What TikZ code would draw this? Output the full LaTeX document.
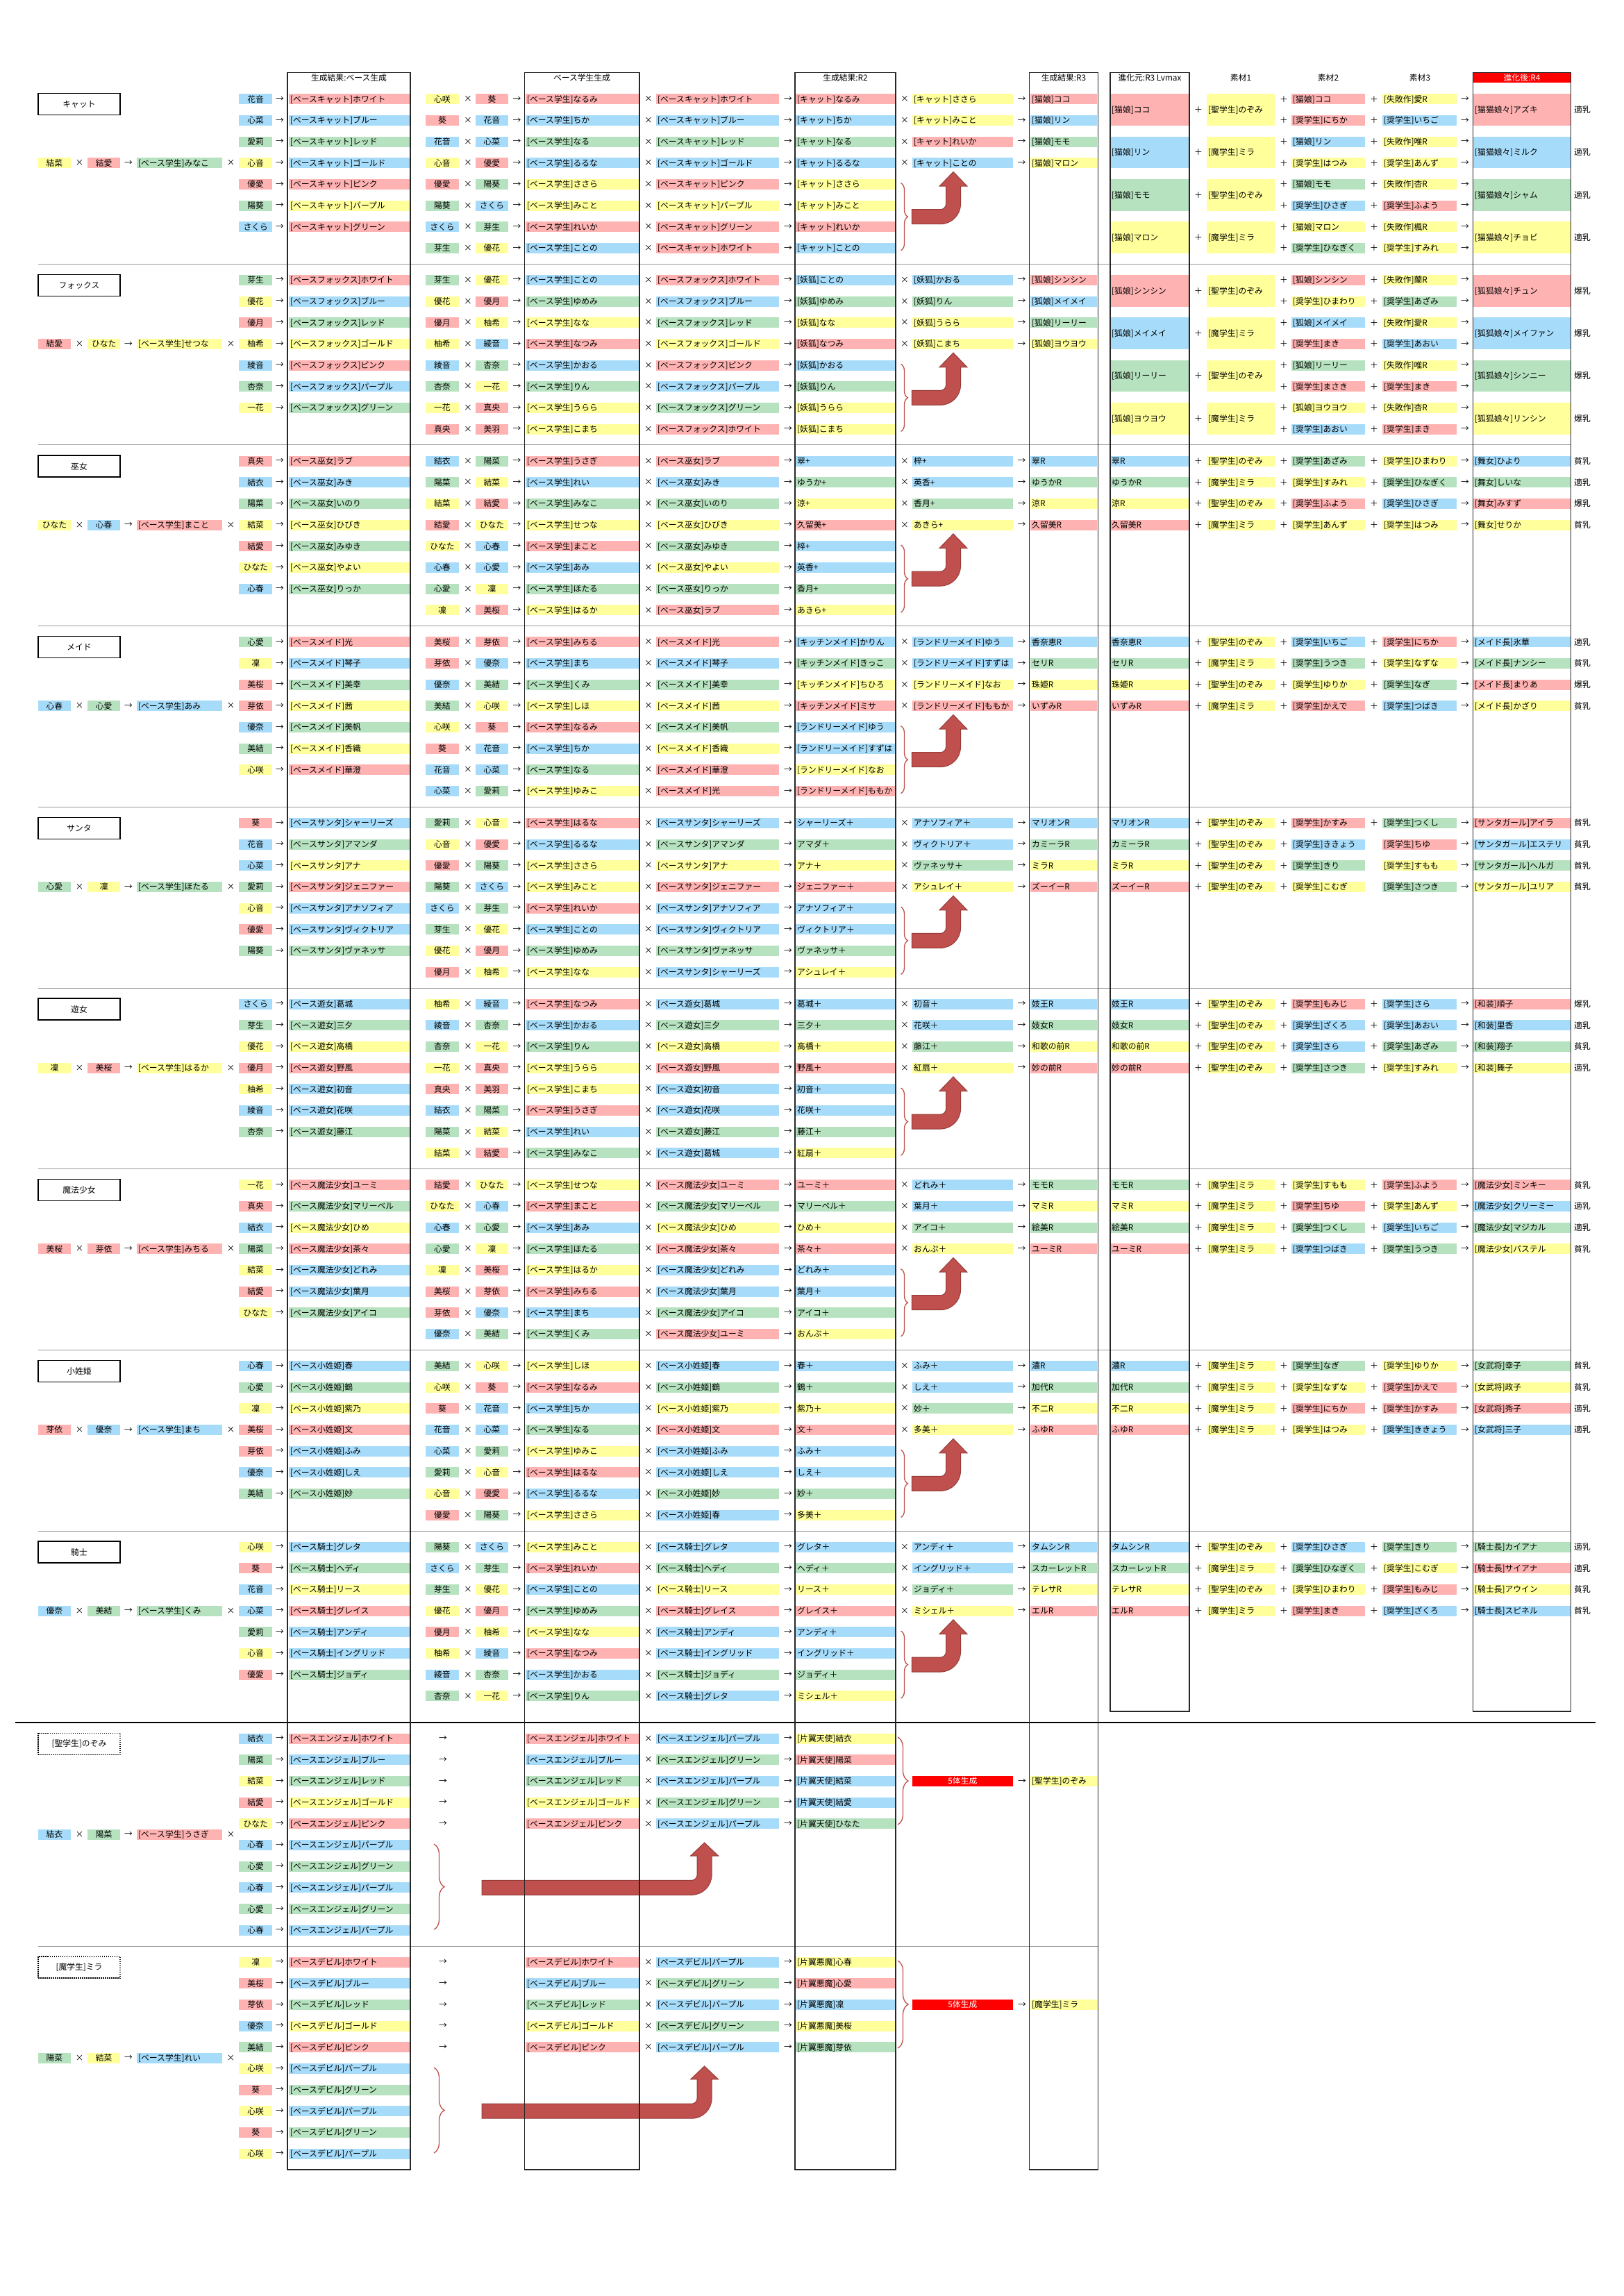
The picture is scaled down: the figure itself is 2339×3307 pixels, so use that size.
\documentclass[tikz,border=0pt]{standalone}
\usepackage{fontspec}
\setmainfont{Noto Sans CJK JP}
\usetikzlibrary{decorations.pathreplacing}
\definecolor{cR}{RGB}{255,178,178}
\definecolor{cB}{RGB}{166,220,250}
\definecolor{cG}{RGB}{182,226,191}
\definecolor{cY}{RGB}{255,255,155}
\definecolor{arrowred}{RGB}{192,80,77}
\definecolor{arrowdark}{RGB}{150,60,57}
\newcounter{nid}
\newcommand\tagfont{\fontsize{11.8pt}{13pt}\selectfont}
\newcommand\TG[6]{\stepcounter{nid}\node[#1,fill=c#4,text width=#5] (n\arabic{nid}) at (#2,#3) {\mbox{#6}};}
\newcommand\TL[5]{\TG{tagL}{#1}{#2}{#3}{#4}{#5}}
\newcommand\TC[5]{\TG{tagC}{#1}{#2}{#3}{#4}{#5}}
\newcommand\SY[3]{\stepcounter{nid}\node[symb] (n\arabic{nid}) at (#1,#2) {#3};}
\newcommand\HD[3]{\stepcounter{nid}\node[hdr] (n\arabic{nid}) at (#1,#2) {#3};}
\newcommand\SZ[2]{\stepcounter{nid}\node[symb,anchor=west] (n\arabic{nid}) at (2267,#1) {#2};}
\newcommand\SetY[1]{\pgfmathsetmacro\myY{\myB+(#1-1)*30.69}}
\newcommand\ColOne[5]{\SetY{#1}\TC{344}{\myY}{#2}{44pt}{#3}\SY{403}{\myY}{→}\TL{416}{\myY}{#4}{170pt}{#5}}
\newcommand\PairRow[7]{\SetY{#1}\TC{613}{\myY}{#2}{43.5pt}{#3}\SY{674}{\myY}{×}\TC{685}{\myY}{#4}{42.5pt}{#5}\SY{744.6}{\myY}{→}\TL{757}{\myY}{#6}{159pt}{#7}}
\newcommand\MidRow[5]{\SetY{#1}\SY{934}{\myY}{×}\TL{945}{\myY}{#2}{172.5pt}{#3}\SY{1135}{\myY}{→}\TL{1146}{\myY}{#4}{140pt}{#5}}
\newcommand\OptRow[5]{\SetY{#1}\SY{1303}{\myY}{×}\TL{1314}{\myY}{#2}{141pt}{#3}\SY{1471.6}{\myY}{→}\TL{1484}{\myY}{#4}{92pt}{#5}}
\newcommand\EvoA[6]{\SetY{#1}\TL{1599}{\myY}{#2}{109pt}{#3}\SY{1726}{\myY}{＋}\TL{1738}{\myY}{Y}{94pt}{#4}\SY{1849}{\myY}{＋}\TL{1860}{\myY}{#5}{102pt}{#6}}
\newcommand\EvoBn[6]{\SetY{#1}\TL{1991}{\myY}{#2}{103pt}{#3}\SY{2110}{\myY}{→}\TL{2122}{\myY}{#4}{136pt}{#5}\SZ{\myY}{#6}}
\newcommand\EvoB[6]{\SetY{#1}\SY{1979}{\myY}{＋}\EvoBn{#1}{#2}{#3}{#4}{#5}{#6}}
\newcommand\EvoD[7]{\pgfmathsetmacro\myM{\myB+(#1-1)*30.69+15.345}\TG{tagBig}{1599}{\myM}{#2}{109pt}{#3}\SY{1726}{\myM}{＋}\TG{tagBig}{1738}{\myM}{Y}{94pt}{#4}\TG{tagBig}{2122}{\myM}{#5}{136pt}{#6}\SZ{\myM}{#7}}
\newcommand\MatRow[5]{\SetY{#1}\SY{1849}{\myY}{＋}\TL{1860}{\myY}{#2}{102pt}{#3}\SY{1979}{\myY}{＋}\TL{1991}{\myY}{#4}{103pt}{#5}\SY{2110}{\myY}{→}}
\newcommand\StuRow[3]{\SetY{#1}\SY{638}{\myY}{→}\TL{757}{\myY}{#2}{159pt}{#3}}
\newcommand\BigArrow[5]{\fill[redarrow] (#1,{#2-10.5}) -- ({#3-18.5},{#2-10.5}) .. controls ({#3-14.1},{#2-10.5}) and ({#3-10.5},{#2-14.1}) .. ({#3-10.5},{#2-18.5}) -- ({#3-10.5},#5) -- ({#3-20},#5) -- (#3,#4) -- ({#3+20},#5) -- ({#3+10.5},#5) -- ({#3+10.5},{#2-18.5}) .. controls ({#3+10.5},{#2-2.5}) and ({#3-2.5},{#2+10.5}) .. ({#3-18.5},{#2+10.5}) -- (#1,{#2+10.5}) -- cycle;}
\newcommand\Parents[6]{\TC{55}{\myY}{#1}{42.5pt}{#2}\SY{114.6}{\myY}{×}\TC{126}{\myY}{#3}{43pt}{#4}\SY{185}{\myY}{→}\TL{197}{\myY}{#5}{119pt}{#6}\SY{332.6}{\myY}{×}}
\newcommand\SecHead[8]{%
\pgfmathsetmacro\myB{142.7+#1*260.67}%
\pgfmathsetmacro\myT{\myB+7.5}%
\stepcounter{nid}\node[titlebox] (n\arabic{nid}) at (114,\myT) {#2};%
\SetY{4}\Parents{#3}{#4}{#5}{#6}{#7}{#8}%
\pgfmathsetmacro\myP{\myB+121}\pgfmathsetmacro\myQ{\myB+218}%
\draw[redbrace=10pt] (1297.5,\myP) -- (1297.5,\myQ);%
\pgfmathsetmacro\myC{\myB+169.5}\pgfmathsetmacro\myH{\myB+125.5}\pgfmathsetmacro\myK{\myB+104.8}%
\BigArrow{1313.4}{\myC}{1373}{\myK}{\myH}}
\newcommand\StuHead[8]{%
\def\myB{#1}%
\pgfmathsetmacro\myT{#1+7.5}%
\stepcounter{nid}\node[stubox] (n\arabic{nid}) at (114,\myT) {#2};%
\pgfmathsetmacro\myY{#1+138.1}\Parents{#3}{#4}{#5}{#6}{#7}{#8}%
\pgfmathsetmacro\myP{#1+152}\pgfmathsetmacro\myQ{#1+275}%
\draw[redbrace=15pt] (625,\myP) -- (625,\myQ);%
\pgfmathsetmacro\myC{#1+214.7}\pgfmathsetmacro\myH{#1+168.9}\pgfmathsetmacro\myK{#1+149.9}%
\BigArrow{694}{\myC}{1014.6}{\myK}{\myH}%
\pgfmathsetmacro\myP{#1-2}\pgfmathsetmacro\myQ{#1+124}%
\draw[redbrace=15pt] (1293,\myP) -- (1293,\myQ);%
\SetY{3}%
\stepcounter{nid}\node[genbox] (n\arabic{nid}) at (1313.4,\myY) {5体生成};%
\SY{1472}{\myY}{→}}
\tikzset{
 tagbase/.style={anchor=west, inner xsep=2pt, inner ysep=0pt, minimum height=15pt, text height=10.2pt, text depth=1.5pt, font=\tagfont},
 tagL/.style={tagbase, align=left},
 tagC/.style={tagbase, align=center},
 tagBig/.style={tagbase, align=left, minimum height=45.7pt},
 symb/.style={inner sep=0pt, font=\tagfont},
 hdr/.style={inner sep=0pt, font=\tagfont},
 titlebox/.style={draw=black, line width=1.4pt, minimum width=118pt, minimum height=31pt, inner sep=0pt, font=\tagfont, fill=white},
 stubox/.style={draw=black, line width=1.2pt, dash pattern=on 1.5pt off 1.5pt, minimum width=118pt, minimum height=31pt, inner sep=0pt, font=\tagfont, fill=white},
 genbox/.style={anchor=west, fill=red, text=white, minimum width=145.6pt, minimum height=15pt, inner sep=0pt, text height=10.2pt, text depth=1.5pt, font=\tagfont},
 frame/.style={draw=black!85, line width=1.5pt},
 sepline/.style={draw=black!40, line width=1pt},
 redarrow/.style={fill=arrowred, draw=arrowdark, line width=1pt},
 redbrace/.style={draw=arrowred, line width=1.3pt, decorate, decoration={brace, amplitude=#1}}
}
\begin{document}
\begin{tikzpicture}[x=1pt,y=-1pt]
\useasboundingbox (0,0) rectangle (2339,3307);
\fill[white] (0,0) rectangle (2339,3307);
\foreach \k in {0,...,7} \draw[sepline] (55,{380.3+\k*260.67}) -- (2262,{380.3+\k*260.67});
\draw[sepline] (55,2803.7) -- (1582,2803.7);
\draw[line width=2pt] (22,2481) -- (2298,2481);
\fill[red] (2121.5,104.5) rectangle (2262.5,119.4);
\HD{502.5}{112}{生成結果:ベース生成}
\HD{838}{112}{ベース学生生成}
\HD{1217.5}{112}{生成結果:R2}
\HD{1532}{112}{生成結果:R3}
\HD{1656}{112}{進化元:R3 Lvmax}
\HD{1787}{112}{素材1}
\HD{1913}{112}{素材2}
\HD{2045}{112}{素材3}
\stepcounter{nid}\node[hdr,text=white] (n\arabic{nid}) at (2192,112) {進化後:R4};
% ===== 0 キャット
\SecHead{0}{キャット}{Y}{結菜}{R}{結愛}{G}{[ベース学生]みなこ}
\ColOne{1}{B}{花音}{R}{[ベースキャット]ホワイト}
\ColOne{2}{B}{心菜}{B}{[ベースキャット]ブルー}
\ColOne{3}{G}{愛莉}{G}{[ベースキャット]レッド}
\ColOne{4}{Y}{心音}{B}{[ベースキャット]ゴールド}
\ColOne{5}{R}{優愛}{R}{[ベースキャット]ピンク}
\ColOne{6}{G}{陽葵}{Y}{[ベースキャット]パープル}
\ColOne{7}{B}{さくら}{R}{[ベースキャット]グリーン}
\PairRow{1}{Y}{心咲}{R}{葵}{R}{[ベース学生]なるみ}
\PairRow{2}{R}{葵}{B}{花音}{B}{[ベース学生]ちか}
\PairRow{3}{B}{花音}{B}{心菜}{G}{[ベース学生]なる}
\PairRow{4}{Y}{心音}{R}{優愛}{B}{[ベース学生]るるな}
\PairRow{5}{R}{優愛}{G}{陽葵}{Y}{[ベース学生]ささら}
\PairRow{6}{G}{陽葵}{B}{さくら}{Y}{[ベース学生]みこと}
\PairRow{7}{B}{さくら}{G}{芽生}{R}{[ベース学生]れいか}
\PairRow{8}{G}{芽生}{Y}{優花}{B}{[ベース学生]ことの}
\MidRow{1}{R}{[ベースキャット]ホワイト}{R}{[キャット]なるみ}
\MidRow{2}{B}{[ベースキャット]ブルー}{B}{[キャット]ちか}
\MidRow{3}{G}{[ベースキャット]レッド}{G}{[キャット]なる}
\MidRow{4}{B}{[ベースキャット]ゴールド}{B}{[キャット]るるな}
\MidRow{5}{R}{[ベースキャット]ピンク}{Y}{[キャット]ささら}
\MidRow{6}{Y}{[ベースキャット]パープル}{Y}{[キャット]みこと}
\MidRow{7}{R}{[ベースキャット]グリーン}{R}{[キャット]れいか}
\MidRow{8}{R}{[ベースキャット]ホワイト}{B}{[キャット]ことの}
\OptRow{1}{Y}{[キャット]ささら}{R}{[猫娘]ココ}
\OptRow{2}{Y}{[キャット]みこと}{B}{[猫娘]リン}
\OptRow{3}{R}{[キャット]れいか}{G}{[猫娘]モモ}
\OptRow{4}{B}{[キャット]ことの}{Y}{[猫娘]マロン}
\EvoD{1}{R}{[猫娘]ココ}{[聖学生]のぞみ}{R}{[猫猫娘々]アズキ}{適乳}
\MatRow{1}{R}{[猫娘]ココ}{Y}{[失敗作]愛R}
\MatRow{2}{R}{[奨学生]にちか}{B}{[奨学生]いちご}
\EvoD{3}{B}{[猫娘]リン}{[魔学生]ミラ}{B}{[猫猫娘々]ミルク}{適乳}
\MatRow{3}{B}{[猫娘]リン}{Y}{[失敗作]唯R}
\MatRow{4}{Y}{[奨学生]はつみ}{Y}{[奨学生]あんず}
\EvoD{5}{G}{[猫娘]モモ}{[聖学生]のぞみ}{G}{[猫猫娘々]シャム}{適乳}
\MatRow{5}{G}{[猫娘]モモ}{Y}{[失敗作]杏R}
\MatRow{6}{B}{[奨学生]ひさぎ}{R}{[奨学生]ふよう}
\EvoD{7}{Y}{[猫娘]マロン}{[魔学生]ミラ}{Y}{[猫猫娘々]チョビ}{適乳}
\MatRow{7}{Y}{[猫娘]マロン}{Y}{[失敗作]楓R}
\MatRow{8}{G}{[奨学生]ひなぎく}{Y}{[奨学生]すみれ}
% ===== 1 フォックス
\SecHead{1}{フォックス}{R}{結愛}{Y}{ひなた}{Y}{[ベース学生]せつな}
\ColOne{1}{G}{芽生}{R}{[ベースフォックス]ホワイト}
\ColOne{2}{Y}{優花}{B}{[ベースフォックス]ブルー}
\ColOne{3}{R}{優月}{G}{[ベースフォックス]レッド}
\ColOne{4}{Y}{柚希}{Y}{[ベースフォックス]ゴールド}
\ColOne{5}{B}{綾音}{R}{[ベースフォックス]ピンク}
\ColOne{6}{G}{杏奈}{B}{[ベースフォックス]パープル}
\ColOne{7}{Y}{一花}{G}{[ベースフォックス]グリーン}
\PairRow{1}{G}{芽生}{Y}{優花}{B}{[ベース学生]ことの}
\PairRow{2}{Y}{優花}{R}{優月}{G}{[ベース学生]ゆめみ}
\PairRow{3}{R}{優月}{Y}{柚希}{Y}{[ベース学生]なな}
\PairRow{4}{Y}{柚希}{B}{綾音}{R}{[ベース学生]なつみ}
\PairRow{5}{B}{綾音}{G}{杏奈}{B}{[ベース学生]かおる}
\PairRow{6}{G}{杏奈}{Y}{一花}{G}{[ベース学生]りん}
\PairRow{7}{Y}{一花}{R}{真央}{Y}{[ベース学生]うらら}
\PairRow{8}{R}{真央}{R}{美羽}{Y}{[ベース学生]こまち}
\MidRow{1}{R}{[ベースフォックス]ホワイト}{B}{[妖狐]ことの}
\MidRow{2}{B}{[ベースフォックス]ブルー}{G}{[妖狐]ゆめみ}
\MidRow{3}{G}{[ベースフォックス]レッド}{Y}{[妖狐]なな}
\MidRow{4}{Y}{[ベースフォックス]ゴールド}{R}{[妖狐]なつみ}
\MidRow{5}{R}{[ベースフォックス]ピンク}{B}{[妖狐]かおる}
\MidRow{6}{B}{[ベースフォックス]パープル}{G}{[妖狐]りん}
\MidRow{7}{G}{[ベースフォックス]グリーン}{Y}{[妖狐]うらら}
\MidRow{8}{R}{[ベースフォックス]ホワイト}{Y}{[妖狐]こまち}
\OptRow{1}{B}{[妖狐]かおる}{R}{[狐娘]シンシン}
\OptRow{2}{G}{[妖狐]りん}{B}{[狐娘]メイメイ}
\OptRow{3}{Y}{[妖狐]うらら}{G}{[狐娘]リーリー}
\OptRow{4}{Y}{[妖狐]こまち}{Y}{[狐娘]ヨウヨウ}
\EvoD{1}{R}{[狐娘]シンシン}{[聖学生]のぞみ}{R}{[狐狐娘々]チュン}{爆乳}
\MatRow{1}{R}{[狐娘]シンシン}{Y}{[失敗作]蘭R}
\MatRow{2}{Y}{[奨学生]ひまわり}{G}{[奨学生]あざみ}
\EvoD{3}{B}{[狐娘]メイメイ}{[魔学生]ミラ}{B}{[狐狐娘々]メイファン}{爆乳}
\MatRow{3}{B}{[狐娘]メイメイ}{Y}{[失敗作]愛R}
\MatRow{4}{R}{[奨学生]まき}{B}{[奨学生]あおい}
\EvoD{5}{G}{[狐娘]リーリー}{[聖学生]のぞみ}{G}{[狐狐娘々]シンニー}{爆乳}
\MatRow{5}{G}{[狐娘]リーリー}{Y}{[失敗作]唯R}
\MatRow{6}{R}{[奨学生]まさき}{R}{[奨学生]まき}
\EvoD{7}{Y}{[狐娘]ヨウヨウ}{[魔学生]ミラ}{Y}{[狐狐娘々]リンシン}{爆乳}
\MatRow{7}{Y}{[狐娘]ヨウヨウ}{Y}{[失敗作]杏R}
\MatRow{8}{B}{[奨学生]あおい}{R}{[奨学生]まき}
% ===== 2 巫女
\SecHead{2}{巫女}{Y}{ひなた}{B}{心春}{R}{[ベース学生]まこと}
\ColOne{1}{R}{真央}{R}{[ベース巫女]ラブ}
\ColOne{2}{B}{結衣}{B}{[ベース巫女]みき}
\ColOne{3}{G}{陽菜}{G}{[ベース巫女]いのり}
\ColOne{4}{Y}{結菜}{Y}{[ベース巫女]ひびき}
\ColOne{5}{R}{結愛}{G}{[ベース巫女]みゆき}
\ColOne{6}{Y}{ひなた}{Y}{[ベース巫女]やよい}
\ColOne{7}{B}{心春}{G}{[ベース巫女]りっか}
\PairRow{1}{B}{結衣}{G}{陽菜}{R}{[ベース学生]うさぎ}
\PairRow{2}{G}{陽菜}{Y}{結菜}{B}{[ベース学生]れい}
\PairRow{3}{Y}{結菜}{R}{結愛}{G}{[ベース学生]みなこ}
\PairRow{4}{R}{結愛}{Y}{ひなた}{Y}{[ベース学生]せつな}
\PairRow{5}{Y}{ひなた}{B}{心春}{R}{[ベース学生]まこと}
\PairRow{6}{B}{心春}{B}{心愛}{B}{[ベース学生]あみ}
\PairRow{7}{G}{心愛}{Y}{凜}{G}{[ベース学生]ほたる}
\PairRow{8}{Y}{凜}{R}{美桜}{Y}{[ベース学生]はるか}
\MidRow{1}{R}{[ベース巫女]ラブ}{B}{翠+}
\MidRow{2}{B}{[ベース巫女]みき}{G}{ゆうか+}
\MidRow{3}{G}{[ベース巫女]いのり}{Y}{涼+}
\MidRow{4}{Y}{[ベース巫女]ひびき}{R}{久留美+}
\MidRow{5}{G}{[ベース巫女]みゆき}{B}{梓+}
\MidRow{6}{Y}{[ベース巫女]やよい}{B}{英香+}
\MidRow{7}{G}{[ベース巫女]りっか}{G}{香月+}
\MidRow{8}{R}{[ベース巫女]ラブ}{Y}{あきら+}
\OptRow{1}{B}{梓+}{B}{翠R}
\OptRow{2}{B}{英香+}{G}{ゆうかR}
\OptRow{3}{G}{香月+}{Y}{涼R}
\OptRow{4}{Y}{あきら+}{R}{久留美R}
\EvoA{1}{B}{翠R}{[聖学生]のぞみ}{G}{[奨学生]あざみ}\EvoB{1}{Y}{[奨学生]ひまわり}{B}{[舞女]ひより}{貧乳}
\EvoA{2}{G}{ゆうかR}{[魔学生]ミラ}{Y}{[奨学生]すみれ}\EvoB{2}{G}{[奨学生]ひなぎく}{G}{[舞女]しいな}{適乳}
\EvoA{3}{Y}{涼R}{[聖学生]のぞみ}{R}{[奨学生]ふよう}\EvoB{3}{B}{[奨学生]ひさぎ}{R}{[舞女]みすず}{爆乳}
\EvoA{4}{R}{久留美R}{[魔学生]ミラ}{Y}{[奨学生]あんず}\EvoB{4}{Y}{[奨学生]はつみ}{Y}{[舞女]せりか}{貧乳}
% ===== 3 メイド
\SecHead{3}{メイド}{B}{心春}{G}{心愛}{B}{[ベース学生]あみ}
\ColOne{1}{G}{心愛}{R}{[ベースメイド]光}
\ColOne{2}{Y}{凜}{B}{[ベースメイド]琴子}
\ColOne{3}{R}{美桜}{G}{[ベースメイド]美幸}
\ColOne{4}{R}{芽依}{Y}{[ベースメイド]茜}
\ColOne{5}{B}{優奈}{G}{[ベースメイド]美帆}
\ColOne{6}{G}{美結}{Y}{[ベースメイド]香織}
\ColOne{7}{Y}{心咲}{R}{[ベースメイド]華澄}
\PairRow{1}{R}{美桜}{R}{芽依}{R}{[ベース学生]みちる}
\PairRow{2}{R}{芽依}{B}{優奈}{B}{[ベース学生]まち}
\PairRow{3}{B}{優奈}{G}{美結}{G}{[ベース学生]くみ}
\PairRow{4}{G}{美結}{Y}{心咲}{Y}{[ベース学生]しほ}
\PairRow{5}{Y}{心咲}{R}{葵}{R}{[ベース学生]なるみ}
\PairRow{6}{R}{葵}{B}{花音}{B}{[ベース学生]ちか}
\PairRow{7}{B}{花音}{B}{心菜}{G}{[ベース学生]なる}
\PairRow{8}{B}{心菜}{G}{愛莉}{Y}{[ベース学生]ゆみこ}
\MidRow{1}{R}{[ベースメイド]光}{B}{[キッチンメイド]かりん}
\MidRow{2}{B}{[ベースメイド]琴子}{G}{[キッチンメイド]きっこ}
\MidRow{3}{G}{[ベースメイド]美幸}{Y}{[キッチンメイド]ちひろ}
\MidRow{4}{Y}{[ベースメイド]茜}{R}{[キッチンメイド]ミサ}
\MidRow{5}{G}{[ベースメイド]美帆}{B}{[ランドリーメイド]ゆう}
\MidRow{6}{Y}{[ベースメイド]香織}{B}{[ランドリーメイド]すずは}
\MidRow{7}{R}{[ベースメイド]華澄}{Y}{[ランドリーメイド]なお}
\MidRow{8}{R}{[ベースメイド]光}{R}{[ランドリーメイド]ももか}
\OptRow{1}{B}{[ランドリーメイド]ゆう}{B}{香奈恵R}
\OptRow{2}{B}{[ランドリーメイド]すずは}{G}{セリR}
\OptRow{3}{Y}{[ランドリーメイド]なお}{Y}{珠姫R}
\OptRow{4}{R}{[ランドリーメイド]ももか}{R}{いずみR}
\EvoA{1}{B}{香奈恵R}{[聖学生]のぞみ}{B}{[奨学生]いちご}\EvoB{1}{R}{[奨学生]にちか}{B}{[メイド長]氷華}{適乳}
\EvoA{2}{G}{セリR}{[魔学生]ミラ}{G}{[奨学生]うつき}\EvoB{2}{Y}{[奨学生]なずな}{G}{[メイド長]ナンシー}{貧乳}
\EvoA{3}{Y}{珠姫R}{[聖学生]のぞみ}{Y}{[奨学生]ゆりか}\EvoB{3}{G}{[奨学生]なぎ}{R}{[メイド長]まりあ}{爆乳}
\EvoA{4}{R}{いずみR}{[魔学生]ミラ}{R}{[奨学生]かえで}\EvoB{4}{B}{[奨学生]つばき}{Y}{[メイド長]かざり}{貧乳}
% ===== 4 サンタ
\SecHead{4}{サンタ}{G}{心愛}{Y}{凜}{G}{[ベース学生]ほたる}
\ColOne{1}{R}{葵}{B}{[ベースサンタ]シャーリーズ}
\ColOne{2}{B}{花音}{G}{[ベースサンタ]アマンダ}
\ColOne{3}{B}{心菜}{Y}{[ベースサンタ]アナ}
\ColOne{4}{G}{愛莉}{R}{[ベースサンタ]ジェニファー}
\ColOne{5}{Y}{心音}{B}{[ベースサンタ]アナソフィア}
\ColOne{6}{R}{優愛}{B}{[ベースサンタ]ヴィクトリア}
\ColOne{7}{G}{陽葵}{G}{[ベースサンタ]ヴァネッサ}
\PairRow{1}{G}{愛莉}{Y}{心音}{R}{[ベース学生]はるな}
\PairRow{2}{Y}{心音}{R}{優愛}{B}{[ベース学生]るるな}
\PairRow{3}{R}{優愛}{G}{陽葵}{Y}{[ベース学生]ささら}
\PairRow{4}{G}{陽葵}{B}{さくら}{Y}{[ベース学生]みこと}
\PairRow{5}{B}{さくら}{G}{芽生}{R}{[ベース学生]れいか}
\PairRow{6}{G}{芽生}{Y}{優花}{B}{[ベース学生]ことの}
\PairRow{7}{Y}{優花}{R}{優月}{G}{[ベース学生]ゆめみ}
\PairRow{8}{R}{優月}{Y}{柚希}{Y}{[ベース学生]なな}
\MidRow{1}{B}{[ベースサンタ]シャーリーズ}{B}{シャーリーズ＋}
\MidRow{2}{G}{[ベースサンタ]アマンダ}{G}{アマダ＋}
\MidRow{3}{Y}{[ベースサンタ]アナ}{Y}{アナ＋}
\MidRow{4}{R}{[ベースサンタ]ジェニファー}{R}{ジェニファー＋}
\MidRow{5}{B}{[ベースサンタ]アナソフィア}{B}{アナソフィア＋}
\MidRow{6}{B}{[ベースサンタ]ヴィクトリア}{B}{ヴィクトリア＋}
\MidRow{7}{G}{[ベースサンタ]ヴァネッサ}{G}{ヴァネッサ＋}
\MidRow{8}{B}{[ベースサンタ]シャーリーズ}{Y}{アシュレイ＋}
\OptRow{1}{B}{アナソフィア＋}{B}{マリオンR}
\OptRow{2}{B}{ヴィクトリア＋}{G}{カミーラR}
\OptRow{3}{G}{ヴァネッサ＋}{Y}{ミラR}
\OptRow{4}{Y}{アシュレイ＋}{R}{ズーイーR}
\EvoA{1}{B}{マリオンR}{[聖学生]のぞみ}{R}{[奨学生]かすみ}\EvoB{1}{G}{[奨学生]つくし}{R}{[サンタガール]アイラ}{貧乳}
\EvoA{2}{G}{カミーラR}{[聖学生]のぞみ}{B}{[奨学生]ききょう}\EvoBn{2}{R}{[奨学生]ちゆ}{B}{[サンタガール]エステリ}{貧乳}
\EvoA{3}{Y}{ミラR}{[聖学生]のぞみ}{G}{[奨学生]きり}\EvoBn{3}{Y}{[奨学生]すもも}{G}{[サンタガール]ヘルガ}{貧乳}
\EvoA{4}{R}{ズーイーR}{[聖学生]のぞみ}{Y}{[奨学生]こむぎ}\EvoBn{4}{G}{[奨学生]さつき}{Y}{[サンタガール]ユリア}{貧乳}
% ===== 5 遊女
\SecHead{5}{遊女}{Y}{凜}{R}{美桜}{Y}{[ベース学生]はるか}
\ColOne{1}{B}{さくら}{B}{[ベース遊女]葛城}
\ColOne{2}{G}{芽生}{G}{[ベース遊女]三夕}
\ColOne{3}{Y}{優花}{Y}{[ベース遊女]高橋}
\ColOne{4}{R}{優月}{R}{[ベース遊女]野風}
\ColOne{5}{Y}{柚希}{B}{[ベース遊女]初音}
\ColOne{6}{B}{綾音}{B}{[ベース遊女]花咲}
\ColOne{7}{G}{杏奈}{G}{[ベース遊女]藤江}
\PairRow{1}{Y}{柚希}{B}{綾音}{R}{[ベース学生]なつみ}
\PairRow{2}{B}{綾音}{G}{杏奈}{B}{[ベース学生]かおる}
\PairRow{3}{G}{杏奈}{Y}{一花}{G}{[ベース学生]りん}
\PairRow{4}{Y}{一花}{R}{真央}{Y}{[ベース学生]うらら}
\PairRow{5}{R}{真央}{R}{美羽}{Y}{[ベース学生]こまち}
\PairRow{6}{B}{結衣}{G}{陽菜}{R}{[ベース学生]うさぎ}
\PairRow{7}{G}{陽菜}{Y}{結菜}{B}{[ベース学生]れい}
\PairRow{8}{Y}{結菜}{R}{結愛}{G}{[ベース学生]みなこ}
\MidRow{1}{B}{[ベース遊女]葛城}{B}{葛城＋}
\MidRow{2}{G}{[ベース遊女]三夕}{G}{三夕＋}
\MidRow{3}{Y}{[ベース遊女]高橋}{Y}{高橋＋}
\MidRow{4}{R}{[ベース遊女]野風}{R}{野風＋}
\MidRow{5}{B}{[ベース遊女]初音}{B}{初音＋}
\MidRow{6}{B}{[ベース遊女]花咲}{B}{花咲＋}
\MidRow{7}{G}{[ベース遊女]藤江}{G}{藤江＋}
\MidRow{8}{B}{[ベース遊女]葛城}{Y}{紅扇＋}
\OptRow{1}{B}{初音＋}{B}{妓王R}
\OptRow{2}{B}{花咲＋}{G}{妓女R}
\OptRow{3}{G}{藤江＋}{Y}{和歌の前R}
\OptRow{4}{Y}{紅扇＋}{R}{妙の前R}
\EvoA{1}{B}{妓王R}{[聖学生]のぞみ}{R}{[奨学生]もみじ}\EvoB{1}{B}{[奨学生]さら}{R}{[和装]順子}{爆乳}
\EvoA{2}{G}{妓女R}{[聖学生]のぞみ}{B}{[奨学生]ざくろ}\EvoB{2}{B}{[奨学生]あおい}{B}{[和装]里香}{適乳}
\EvoA{3}{Y}{和歌の前R}{[聖学生]のぞみ}{B}{[奨学生]さら}\EvoB{3}{G}{[奨学生]あざみ}{G}{[和装]翔子}{貧乳}
\EvoA{4}{R}{妙の前R}{[聖学生]のぞみ}{G}{[奨学生]さつき}\EvoB{4}{Y}{[奨学生]すみれ}{Y}{[和装]舞子}{適乳}
% ===== 6 魔法少女
\SecHead{6}{魔法少女}{R}{美桜}{R}{芽依}{R}{[ベース学生]みちる}
\ColOne{1}{Y}{一花}{R}{[ベース魔法少女]ユーミ}
\ColOne{2}{R}{真央}{G}{[ベース魔法少女]マリーベル}
\ColOne{3}{B}{結衣}{Y}{[ベース魔法少女]ひめ}
\ColOne{4}{G}{陽菜}{R}{[ベース魔法少女]茶々}
\ColOne{5}{Y}{結菜}{B}{[ベース魔法少女]どれみ}
\ColOne{6}{R}{結愛}{B}{[ベース魔法少女]葉月}
\ColOne{7}{Y}{ひなた}{G}{[ベース魔法少女]アイコ}
\PairRow{1}{R}{結愛}{Y}{ひなた}{Y}{[ベース学生]せつな}
\PairRow{2}{Y}{ひなた}{B}{心春}{R}{[ベース学生]まこと}
\PairRow{3}{B}{心春}{G}{心愛}{B}{[ベース学生]あみ}
\PairRow{4}{G}{心愛}{Y}{凜}{G}{[ベース学生]ほたる}
\PairRow{5}{Y}{凜}{R}{美桜}{Y}{[ベース学生]はるか}
\PairRow{6}{R}{美桜}{R}{芽依}{R}{[ベース学生]みちる}
\PairRow{7}{R}{芽依}{B}{優奈}{B}{[ベース学生]まち}
\PairRow{8}{B}{優奈}{G}{美結}{G}{[ベース学生]くみ}
\MidRow{1}{R}{[ベース魔法少女]ユーミ}{R}{ユーミ＋}
\MidRow{2}{G}{[ベース魔法少女]マリーベル}{G}{マリーベル＋}
\MidRow{3}{Y}{[ベース魔法少女]ひめ}{Y}{ひめ＋}
\MidRow{4}{R}{[ベース魔法少女]茶々}{R}{茶々＋}
\MidRow{5}{B}{[ベース魔法少女]どれみ}{B}{どれみ＋}
\MidRow{6}{B}{[ベース魔法少女]葉月}{B}{葉月＋}
\MidRow{7}{G}{[ベース魔法少女]アイコ}{G}{アイコ＋}
\MidRow{8}{R}{[ベース魔法少女]ユーミ}{Y}{おんぷ＋}
\OptRow{1}{B}{どれみ＋}{G}{モモR}
\OptRow{2}{B}{葉月＋}{Y}{マミR}
\OptRow{3}{G}{アイコ＋}{G}{絵美R}
\OptRow{4}{Y}{おんぷ＋}{R}{ユーミR}
\EvoA{1}{G}{モモR}{[魔学生]ミラ}{Y}{[奨学生]すもも}\EvoB{1}{R}{[奨学生]ふよう}{R}{[魔法少女]ミンキー}{貧乳}
\EvoA{2}{Y}{マミR}{[魔学生]ミラ}{R}{[奨学生]ちゆ}\EvoB{2}{Y}{[奨学生]あんず}{B}{[魔法少女]クリーミー}{適乳}
\EvoA{3}{G}{絵美R}{[魔学生]ミラ}{G}{[奨学生]つくし}\EvoB{3}{B}{[奨学生]いちご}{G}{[魔法少女]マジカル}{適乳}
\EvoA{4}{R}{ユーミR}{[魔学生]ミラ}{B}{[奨学生]つばき}\EvoB{4}{G}{[奨学生]うつき}{Y}{[魔法少女]パステル}{貧乳}
% ===== 7 小姓姫
\SecHead{7}{小姓姫}{R}{芽依}{B}{優奈}{B}{[ベース学生]まち}
\ColOne{1}{B}{心春}{B}{[ベース小姓姫]春}
\ColOne{2}{G}{心愛}{G}{[ベース小姓姫]鶴}
\ColOne{3}{Y}{凜}{Y}{[ベース小姓姫]紫乃}
\ColOne{4}{R}{美桜}{R}{[ベース小姓姫]文}
\ColOne{5}{R}{芽依}{B}{[ベース小姓姫]ふみ}
\ColOne{6}{B}{優奈}{B}{[ベース小姓姫]しえ}
\ColOne{7}{G}{美結}{G}{[ベース小姓姫]妙}
\PairRow{1}{G}{美結}{Y}{心咲}{Y}{[ベース学生]しほ}
\PairRow{2}{Y}{心咲}{R}{葵}{R}{[ベース学生]なるみ}
\PairRow{3}{R}{葵}{B}{花音}{B}{[ベース学生]ちか}
\PairRow{4}{B}{花音}{B}{心菜}{G}{[ベース学生]なる}
\PairRow{5}{B}{心菜}{G}{愛莉}{Y}{[ベース学生]ゆみこ}
\PairRow{6}{G}{愛莉}{Y}{心音}{R}{[ベース学生]はるな}
\PairRow{7}{Y}{心音}{R}{優愛}{B}{[ベース学生]るるな}
\PairRow{8}{R}{優愛}{G}{陽葵}{Y}{[ベース学生]ささら}
\MidRow{1}{B}{[ベース小姓姫]春}{B}{春＋}
\MidRow{2}{G}{[ベース小姓姫]鶴}{G}{鶴＋}
\MidRow{3}{Y}{[ベース小姓姫]紫乃}{Y}{紫乃＋}
\MidRow{4}{R}{[ベース小姓姫]文}{R}{文＋}
\MidRow{5}{B}{[ベース小姓姫]ふみ}{B}{ふみ＋}
\MidRow{6}{B}{[ベース小姓姫]しえ}{B}{しえ＋}
\MidRow{7}{G}{[ベース小姓姫]妙}{G}{妙＋}
\MidRow{8}{B}{[ベース小姓姫]春}{Y}{多美＋}
\OptRow{1}{B}{ふみ＋}{B}{濃R}
\OptRow{2}{B}{しえ＋}{G}{加代R}
\OptRow{3}{G}{妙＋}{Y}{不二R}
\OptRow{4}{Y}{多美＋}{R}{ふゆR}
\EvoA{1}{B}{濃R}{[魔学生]ミラ}{G}{[奨学生]なぎ}\EvoB{1}{Y}{[奨学生]ゆりか}{G}{[女武将]幸子}{貧乳}
\EvoA{2}{G}{加代R}{[魔学生]ミラ}{Y}{[奨学生]なずな}\EvoB{2}{R}{[奨学生]かえで}{Y}{[女武将]政子}{貧乳}
\EvoA{3}{Y}{不二R}{[魔学生]ミラ}{R}{[奨学生]にちか}\EvoB{3}{R}{[奨学生]かすみ}{R}{[女武将]秀子}{適乳}
\EvoA{4}{R}{ふゆR}{[魔学生]ミラ}{Y}{[奨学生]はつみ}\EvoB{4}{B}{[奨学生]ききょう}{B}{[女武将]三子}{適乳}
% ===== 8 騎士
\SecHead{8}{騎士}{B}{優奈}{G}{美結}{G}{[ベース学生]くみ}
\ColOne{1}{Y}{心咲}{B}{[ベース騎士]グレタ}
\ColOne{2}{R}{葵}{G}{[ベース騎士]ヘディ}
\ColOne{3}{B}{花音}{Y}{[ベース騎士]リース}
\ColOne{4}{B}{心菜}{R}{[ベース騎士]グレイス}
\ColOne{5}{G}{愛莉}{B}{[ベース騎士]アンディ}
\ColOne{6}{Y}{心音}{B}{[ベース騎士]イングリッド}
\ColOne{7}{R}{優愛}{G}{[ベース騎士]ジョディ}
\PairRow{1}{G}{陽葵}{B}{さくら}{Y}{[ベース学生]みこと}
\PairRow{2}{B}{さくら}{G}{芽生}{R}{[ベース学生]れいか}
\PairRow{3}{G}{芽生}{Y}{優花}{B}{[ベース学生]ことの}
\PairRow{4}{Y}{優花}{R}{優月}{G}{[ベース学生]ゆめみ}
\PairRow{5}{R}{優月}{Y}{柚希}{Y}{[ベース学生]なな}
\PairRow{6}{Y}{柚希}{B}{綾音}{R}{[ベース学生]なつみ}
\PairRow{7}{B}{綾音}{G}{杏奈}{B}{[ベース学生]かおる}
\PairRow{8}{G}{杏奈}{Y}{一花}{G}{[ベース学生]りん}
\MidRow{1}{B}{[ベース騎士]グレタ}{B}{グレタ＋}
\MidRow{2}{G}{[ベース騎士]ヘディ}{G}{ヘディ＋}
\MidRow{3}{Y}{[ベース騎士]リース}{Y}{リース＋}
\MidRow{4}{R}{[ベース騎士]グレイス}{R}{グレイス＋}
\MidRow{5}{B}{[ベース騎士]アンディ}{B}{アンディ＋}
\MidRow{6}{B}{[ベース騎士]イングリッド}{B}{イングリッド＋}
\MidRow{7}{G}{[ベース騎士]ジョディ}{G}{ジョディ＋}
\MidRow{8}{B}{[ベース騎士]グレタ}{Y}{ミシェル＋}
\OptRow{1}{B}{アンディ＋}{B}{タムシンR}
\OptRow{2}{B}{イングリッド＋}{G}{スカーレットR}
\OptRow{3}{G}{ジョディ＋}{Y}{テレサR}
\OptRow{4}{Y}{ミシェル＋}{R}{エルR}
\EvoA{1}{B}{タムシンR}{[聖学生]のぞみ}{B}{[奨学生]ひさぎ}\EvoB{1}{G}{[奨学生]きり}{G}{[騎士長]カイアナ}{適乳}
\EvoA{2}{G}{スカーレットR}{[魔学生]ミラ}{G}{[奨学生]ひなぎく}\EvoB{2}{Y}{[奨学生]こむぎ}{R}{[騎士長]サイアナ}{適乳}
\EvoA{3}{Y}{テレサR}{[聖学生]のぞみ}{Y}{[奨学生]ひまわり}\EvoB{3}{R}{[奨学生]もみじ}{Y}{[騎士長]アウイン}{貧乳}
\EvoA{4}{R}{エルR}{[魔学生]ミラ}{R}{[奨学生]まき}\EvoB{4}{B}{[奨学生]ざくろ}{B}{[騎士長]スピネル}{貧乳}
% ===== 聖学生
\StuHead{2504.1}{[聖学生]のぞみ}{B}{結衣}{G}{陽菜}{R}{[ベース学生]うさぎ}
\TL{1484}{\myY}{Y}{92pt}{[聖学生]のぞみ}
\ColOne{1}{B}{結衣}{R}{[ベースエンジェル]ホワイト}
\ColOne{2}{G}{陽菜}{B}{[ベースエンジェル]ブルー}
\ColOne{3}{Y}{結菜}{G}{[ベースエンジェル]レッド}
\ColOne{4}{R}{結愛}{Y}{[ベースエンジェル]ゴールド}
\ColOne{5}{Y}{ひなた}{R}{[ベースエンジェル]ピンク}
\ColOne{6}{B}{心春}{B}{[ベースエンジェル]パープル}
\ColOne{7}{G}{心愛}{G}{[ベースエンジェル]グリーン}
\ColOne{8}{B}{心春}{B}{[ベースエンジェル]パープル}
\ColOne{9}{G}{心愛}{G}{[ベースエンジェル]グリーン}
\ColOne{10}{B}{心春}{B}{[ベースエンジェル]パープル}
\StuRow{1}{R}{[ベースエンジェル]ホワイト}
\StuRow{2}{B}{[ベースエンジェル]ブルー}
\StuRow{3}{G}{[ベースエンジェル]レッド}
\StuRow{4}{Y}{[ベースエンジェル]ゴールド}
\StuRow{5}{R}{[ベースエンジェル]ピンク}
\MidRow{1}{B}{[ベースエンジェル]パープル}{Y}{[片翼天使]結衣}
\MidRow{2}{G}{[ベースエンジェル]グリーン}{R}{[片翼天使]陽菜}
\MidRow{3}{B}{[ベースエンジェル]パープル}{B}{[片翼天使]結菜}
\MidRow{4}{G}{[ベースエンジェル]グリーン}{B}{[片翼天使]結愛}
\MidRow{5}{B}{[ベースエンジェル]パープル}{G}{[片翼天使]ひなた}
% ===== 魔学生
\StuHead{2826.0}{[魔学生]ミラ}{G}{陽菜}{Y}{結菜}{B}{[ベース学生]れい}
\TL{1484}{\myY}{Y}{92pt}{[魔学生]ミラ}
\ColOne{1}{Y}{凜}{R}{[ベースデビル]ホワイト}
\ColOne{2}{R}{美桜}{B}{[ベースデビル]ブルー}
\ColOne{3}{R}{芽依}{G}{[ベースデビル]レッド}
\ColOne{4}{B}{優奈}{Y}{[ベースデビル]ゴールド}
\ColOne{5}{G}{美結}{R}{[ベースデビル]ピンク}
\ColOne{6}{Y}{心咲}{B}{[ベースデビル]パープル}
\ColOne{7}{R}{葵}{G}{[ベースデビル]グリーン}
\ColOne{8}{Y}{心咲}{B}{[ベースデビル]パープル}
\ColOne{9}{R}{葵}{G}{[ベースデビル]グリーン}
\ColOne{10}{Y}{心咲}{B}{[ベースデビル]パープル}
\StuRow{1}{R}{[ベースデビル]ホワイト}
\StuRow{2}{B}{[ベースデビル]ブルー}
\StuRow{3}{G}{[ベースデビル]レッド}
\StuRow{4}{Y}{[ベースデビル]ゴールド}
\StuRow{5}{R}{[ベースデビル]ピンク}
\MidRow{1}{B}{[ベースデビル]パープル}{Y}{[片翼悪魔]心春}
\MidRow{2}{G}{[ベースデビル]グリーン}{R}{[片翼悪魔]心愛}
\MidRow{3}{B}{[ベースデビル]パープル}{B}{[片翼悪魔]凜}
\MidRow{4}{G}{[ベースデビル]グリーン}{Y}{[片翼悪魔]美桜}
\MidRow{5}{B}{[ベースデビル]パープル}{G}{[片翼悪魔]芽依}
% ===== frames
\draw[frame] (414,104.5) rectangle (591,3125);
\draw[frame] (755.5,104.5) rectangle (920.8,3125);
\draw[frame] (1145,104.5) rectangle (1290,3125);
\draw[frame] (1482.7,104.5) rectangle (1581.5,3125);
\draw[frame] (1599,104.5) rectangle (1713,2465);
\draw[frame] (2121.5,104.5) rectangle (2262.5,2465);
\end{tikzpicture}
\end{document}
